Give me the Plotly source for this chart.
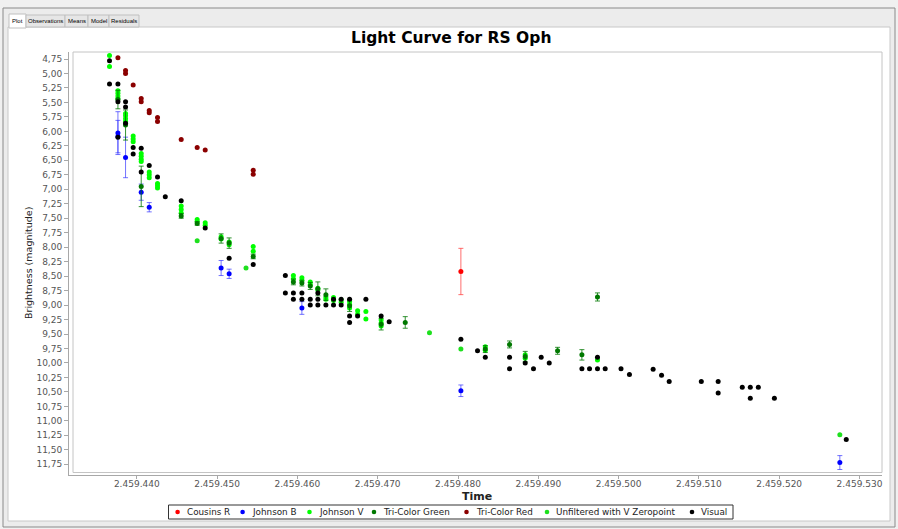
import plotly.graph_objects as go

# ---------------- data ----------------
series_names = ["Cousins R", "Johnson B", "Johnson V", "Tri-Color Green",
                "Tri-Color Red", "Unfiltered with V Zeropoint", "Visual"]
series_colors = ["#ff0000", "#0000ff", "#00ff00", "#007800",
                 "#8b0000", "#1ee01e", "#000000"]

cousins_r_jd = [2459480.36]
cousins_r_mag = [8.42]
cousins_r_err = [0.40]

johnson_b_jd = [2459437.65, 2459437.65, 2459438.6, 2459440.55, 2459441.55,
                2459450.5, 2459451.5, 2459460.56, 2459480.36, 2459527.55]
johnson_b_mag = [6.03, 6.09, 6.45, 7.05, 7.31, 8.36, 8.46, 9.05, 10.48, 11.72]
johnson_b_err = [0.37, 0.28, 0.35, 0.14, 0.08, 0.13, 0.08, 0.11, 0.10, 0.12]

johnson_v_jd = [2459436.6, 2459436.6,
                2459437.65, 2459437.65, 2459437.65, 2459437.65,
                2459438.6, 2459438.6, 2459438.6, 2459438.6,
                2459439.55, 2459439.55, 2459439.55,
                2459440.55, 2459440.55, 2459440.55, 2459440.55,
                2459441.55, 2459441.55, 2459441.55,
                2459442.58, 2459442.58, 2459442.58,
                2459445.53, 2459445.53, 2459445.53,
                2459447.52, 2459447.52,
                2459448.52, 2459448.52,
                2459450.5, 2459450.5,
                2459451.5, 2459451.5,
                2459454.5, 2459454.5,
                2459459.5, 2459459.5,
                2459460.56, 2459460.56,
                2459461.6, 2459461.6,
                2459462.55, 2459462.55,
                2459463.55, 2459463.55,
                2459464.5, 2459464.5,
                2459465.45, 2459465.45,
                2459466.5, 2459466.5, 2459466.5,
                2459467.5, 2459467.5,
                2459468.53, 2459468.53,
                2459470.43, 2459470.43, 2459470.43,
                2459483.4, 2459483.4,
                2459488.37, 2459488.37,
                2459497.37]
johnson_v_mag = [4.69, 4.88,
                 5.30, 5.34, 5.39, 5.43,
                 5.69, 5.73, 5.78, 5.83,
                 6.08, 6.13, 6.18,
                 6.38, 6.43, 6.48, 6.52,
                 6.70, 6.75, 6.80,
                 6.90, 6.94, 6.98,
                 7.29, 7.35, 7.41,
                 7.52, 7.56,
                 7.58, 7.62,
                 7.82, 7.86,
                 7.91, 7.96,
                 7.99, 8.07,
                 8.49, 8.55,
                 8.53, 8.58,
                 8.60, 8.65,
                 8.71, 8.74,
                 8.86, 8.90,
                 8.87, 8.92,
                 8.91, 8.95,
                 8.94, 8.99, 9.05,
                 9.10, 9.16,
                 9.11, 9.24,
                 9.26, 9.31, 9.36,
                 9.72, 9.78,
                 9.86, 9.92,
                 9.95]

tri_green_jd = [2459437.65, 2459438.6, 2459440.55, 2459445.53, 2459447.52,
                2459450.5, 2459451.5, 2459454.5, 2459459.5, 2459460.56,
                2459461.6, 2459462.55, 2459463.55, 2459466.5, 2459470.43,
                2459473.43, 2459483.4, 2459486.42, 2459488.37, 2459492.4,
                2459495.43, 2459497.37]
tri_green_mag = [5.45, 5.89, 6.95, 7.46, 7.59,
                 7.85, 7.93, 8.16, 8.60, 8.62,
                 8.67, 8.72, 8.82, 9.01, 9.33,
                 9.30, 9.76, 9.68, 9.89, 9.79,
                 9.86, 8.86]
tri_green_err = [0.16, 0.26, 0.35, 0.04, 0.03,
                 0.08, 0.09, 0.04, 0.05, 0.05,
                 0.06, 0.12, 0.10, 0.10, 0.10,
                 0.10, 0.06, 0.06, 0.09, 0.06,
                 0.09, 0.07]

tri_red_jd = [2459437.65, 2459438.6, 2459438.6, 2459439.55, 2459440.55,
              2459440.55, 2459441.55, 2459441.55, 2459442.58, 2459442.58,
              2459445.53, 2459447.52, 2459448.52, 2459454.5, 2459454.5]
tri_red_mag = [4.73, 4.95, 5.00, 5.20, 5.43,
               5.49, 5.64, 5.68, 5.76, 5.83,
               6.14, 6.28, 6.32, 6.67, 6.74]

unfiltered_jd = [2459447.52, 2459453.6, 2459476.45, 2459480.36, 2459527.55]
unfiltered_mag = [7.89, 8.36, 9.48, 9.76, 11.24]

visual_jd = [2459436.6, 2459436.6,
             2459437.65, 2459437.65, 2459437.65,
             2459438.6, 2459438.6, 2459438.6,
             2459439.55, 2459439.55,
             2459440.55, 2459440.55,
             2459441.55, 2459442.58, 2459443.55, 2459445.53, 2459448.52,
             2459451.5, 2459454.5,
             2459458.5, 2459458.5,
             2459459.5, 2459459.5,
             2459460.56, 2459460.56,
             2459461.6, 2459461.6,
             2459462.55, 2459462.55, 2459462.55,
             2459463.55,
             2459464.5, 2459464.5,
             2459465.45, 2459465.45,
             2459466.5, 2459466.5, 2459466.5,
             2459467.5, 2459468.53, 2459470.43, 2459471.43,
             2459480.36, 2459482.43, 2459483.4,
             2459486.42, 2459486.42,
             2459488.37, 2459489.4, 2459490.36, 2459491.36,
             2459495.43, 2459496.38,
             2459497.37, 2459497.37,
             2459498.33, 2459500.3, 2459501.35, 2459504.3, 2459505.35,
             2459506.3, 2459510.3,
             2459512.4, 2459512.4,
             2459515.4,
             2459516.4, 2459516.4,
             2459517.4, 2459519.4, 2459528.35]
visual_mag = [4.78, 5.18,
              5.18, 5.49, 6.10,
              5.49, 5.58, 5.86,
              6.28, 6.39,
              6.29, 6.70,
              6.59, 6.79, 7.13, 7.20, 7.67,
              8.19, 8.30,
              8.49, 8.79,
              8.79, 8.90,
              8.79, 8.90,
              8.90, 9.00,
              8.79, 8.90, 9.00,
              9.00,
              8.90, 9.00,
              8.90, 9.00,
              8.90, 9.19, 9.30,
              9.19, 8.90, 9.19, 9.29,
              9.59, 9.79, 9.90,
              9.90, 10.10,
              10.00, 10.10, 9.90, 10.00,
              10.10, 10.10,
              9.90, 10.10,
              10.10, 10.10, 10.20, 10.11, 10.21,
              10.32, 10.32,
              10.32, 10.52,
              10.42,
              10.42, 10.61,
              10.42, 10.61, 11.32]

x_range = [2459431.557, 2459532.802]
y_range = [11.935, 4.629]
x_tick0, x_dtick = 2459440, 10
y_tick0, y_dtick = 4.75, 0.25

tab_labels = ["Plot", "Observations", "Means", "Model", "Residuals"]

# ---------------- layout geometry (pixels) ----------------
W, H = 898, 529
L, R, T, B = 69, 882, 52, 475
FONT = "DejaVu Sans"
TABFONT = "Liberation Sans"


def xp(px):
    return (px - L) / (R - L)


def yp(py):
    return (B - py) / (B - T)


fig = go.Figure()

err_colors = ["rgba(255,60,60,0.75)", "rgba(40,40,255,0.65)", None,
              "rgba(0,120,0,0.8)", None, None, None]
series = [
    (cousins_r_jd, cousins_r_mag, cousins_r_err),
    (johnson_b_jd, johnson_b_mag, johnson_b_err),
    (johnson_v_jd, johnson_v_mag, None),
    (tri_green_jd, tri_green_mag, tri_green_err),
    (tri_red_jd, tri_red_mag, None),
    (unfiltered_jd, unfiltered_mag, None),
    (visual_jd, visual_mag, None),
]

for i, (xs, ys, errs) in enumerate(series):
    kw = {}
    if errs is not None:
        kw["error_y"] = dict(type="data", array=errs, visible=True,
                             color=err_colors[i], thickness=1, width=2.5)
    fig.add_trace(go.Scatter(
        x=xs, y=ys, mode="markers", name=series_names[i],
        marker=dict(color=series_colors[i], size=5, line=dict(width=0)),
        showlegend=False, **kw))

shapes = []
annotations = []

# window chrome
shapes.append(dict(type="rect", xref="paper", yref="paper",
                   x0=xp(3), x1=xp(895), y0=yp(527), y1=yp(8),
                   line=dict(color="#8a8a8a", width=1), fillcolor="#ececec",
                   layer="below"))
shapes.append(dict(type="rect", xref="paper", yref="paper",
                   x0=xp(8), x1=xp(890), y0=yp(521), y1=yp(27),
                   line=dict(color="#c8c8c8", width=1), fillcolor="#ffffff",
                   layer="below"))
tab_edges = [9, 26, 65, 88, 109, 139]
for k, lab in enumerate(tab_labels):
    sel = (k == 0)
    shapes.append(dict(type="rect", xref="paper", yref="paper",
                       x0=xp(tab_edges[k]), x1=xp(tab_edges[k + 1]),
                       y0=yp(27 if not sel else 28), y1=yp(14 if sel else 15),
                       line=dict(color="#c0c0c0", width=1),
                       fillcolor="#ffffff" if sel else "#e6e6e6", layer="below"))
    annotations.append(dict(text=lab, xref="paper", yref="paper",
                            x=xp((tab_edges[k] + tab_edges[k + 1]) / 2), y=yp(21),
                            xanchor="center", yanchor="middle", showarrow=False,
                            font=dict(family=TABFONT, size=6, color="#000000")))

# plot frame
shapes.append(dict(type="rect", xref="paper", yref="paper",
                   x0=xp(73), x1=xp(882), y0=yp(472.5), y1=yp(52),
                   line=dict(color="#c4c4c4", width=1), layer="below"))

# titles
annotations.append(dict(text="<b>Light Curve for RS Oph</b>", xref="paper", yref="paper",
                        x=xp(451), y=yp(38), xanchor="center", yanchor="middle",
                        showarrow=False, font=dict(family=FONT, size=15.5, color="#000000")))
annotations.append(dict(text="<b>Time</b>", xref="paper", yref="paper",
                        x=xp(477), y=yp(496), xanchor="center", yanchor="middle",
                        showarrow=False, font=dict(family=FONT, size=11, color="#222222")))
annotations.append(dict(text="Brightness (magnitude)", xref="paper", yref="paper",
                        x=xp(28), y=yp(263), xanchor="center", yanchor="middle",
                        textangle=-90, showarrow=False,
                        font=dict(family=FONT, size=9.5, color="#222222")))

# legend (custom, matches the Java chart legend box)
shapes.append(dict(type="rect", xref="paper", yref="paper",
                   x0=xp(168.5), x1=xp(733), y0=yp(519), y1=yp(505),
                   line=dict(color="#333333", width=1), fillcolor="#ffffff"))
legend_dot_px = [177.6, 242.6, 309.5, 374.0, 466.5, 547.0, 692.0]
for k, name in enumerate(series_names):
    cx, cy = legend_dot_px[k], 512
    shapes.append(dict(type="circle", xref="paper", yref="paper",
                       x0=xp(cx - 2.3), x1=xp(cx + 2.3), y0=yp(cy + 2.3), y1=yp(cy - 2.3),
                       fillcolor=series_colors[k], line=dict(width=0)))
    annotations.append(dict(text=name, xref="paper", yref="paper",
                            x=xp(cx + 7), y=yp(cy), xanchor="left", yanchor="middle",
                            showarrow=False,
                            font=dict(family=FONT, size=8.8, color="#222222")))

fig.update_layout(
    width=W, height=H,
    margin=dict(l=L, r=W - R, t=T, b=H - B, pad=0),
    paper_bgcolor="#f0f0f0", plot_bgcolor="rgba(0,0,0,0)",
    separators=",.",
    showlegend=False,
    shapes=shapes, annotations=annotations,
    xaxis=dict(range=x_range, tick0=x_tick0, dtick=x_dtick, tickformat=",d",
               showgrid=False, zeroline=False, showline=True, linecolor="#a8a8a8",
               linewidth=1, ticks="outside", ticklen=3, tickcolor="#a8a8a8",
               ticklabelstandoff=-3,
               tickfont=dict(family=FONT, size=9, color="#555555")),
    yaxis=dict(range=y_range, tick0=y_tick0, dtick=y_dtick, tickformat=".2f",
               showgrid=False, zeroline=False, showline=True, linecolor="#a8a8a8",
               linewidth=1, ticks="outside", ticklen=4, tickcolor="#a8a8a8",
               tickfont=dict(family=FONT, size=9, color="#555555")),
)

fig.write_html("out.html",
               config={"displayModeBar": False},
               post_script="document.body.style.margin='0px';"
                           "document.body.style.overflow='hidden';")
